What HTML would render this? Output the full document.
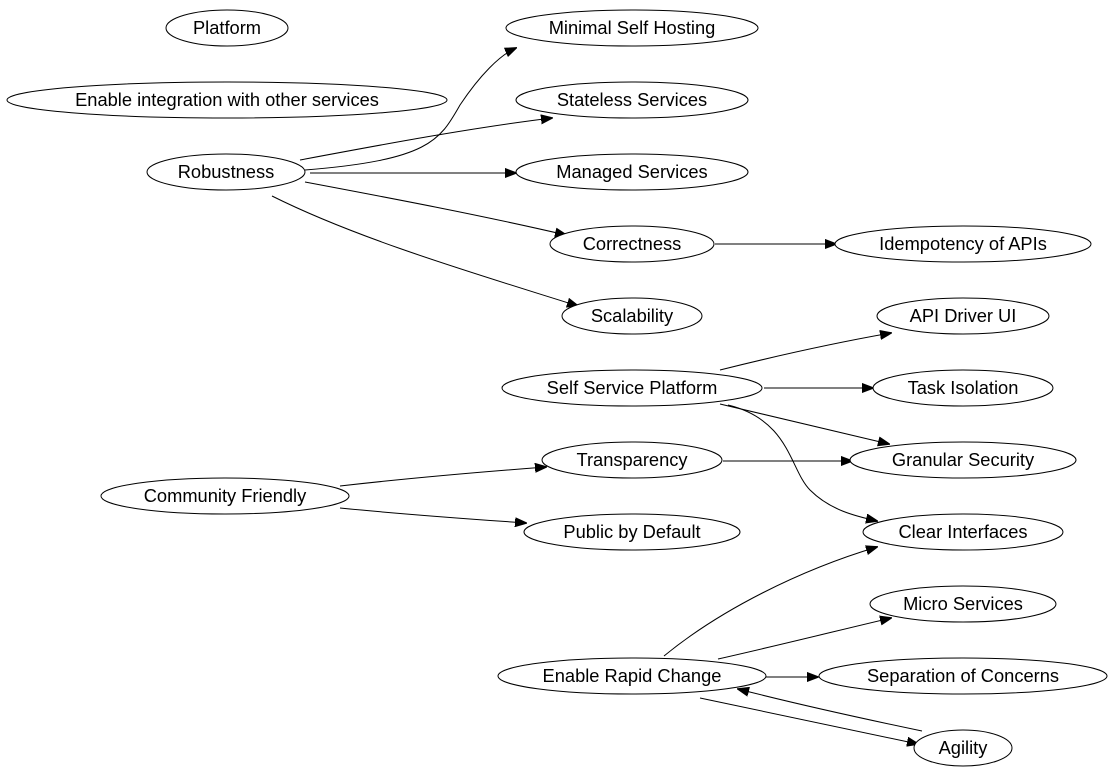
<!DOCTYPE html>
<html><head><meta charset="utf-8"><style>
html,body{margin:0;padding:0;background:#fff;}
svg{display:block;}
text{font-family:"Liberation Sans",sans-serif;font-size:18.3px;text-anchor:middle;fill:#000;}
ellipse{fill:#fff;stroke:#000;stroke-width:1;}
path{fill:none;stroke:#000;stroke-width:1;}
</style></head><body>
<svg width="1115" height="779" viewBox="0 0 1115 779">
<defs><marker id="a" markerWidth="12" markerHeight="10" refX="11" refY="5" orient="auto" markerUnits="userSpaceOnUse"><path d="M0,0.5 L12,5 L0,9.5 Z" style="fill:#000;stroke:#000"/></marker></defs>
<g marker-end="url(#a)">
<path d="M305,170 C430,160 440,140 460,105 C480,75 500,55 516,48"/>
<path d="M300,160 C380,145 470,128 552,118"/>
<path d="M310,173 L516,173"/>
<path d="M305,182 C390,198 480,215 566,235"/>
<path d="M272,196 C360,240 480,275 578,306"/>
<path d="M715,244 L836,244"/>
<path d="M720,370 C780,355 840,342 891,333"/>
<path d="M764,388 L873,388"/>
<path d="M720,404 C780,418 840,432 889,444"/>
<path d="M728,405 C790,420 790,470 810,490 C830,510 855,516 877,521"/>
<path d="M723,461 L852,461"/>
<path d="M340,486 C410,478 480,472 546,467"/>
<path d="M340,508 C410,515 470,519 526,523"/>
<path d="M664,656 C720,610 800,570 877,547"/>
<path d="M718,659 C780,645 840,630 891,618"/>
<path d="M762,677 L818,677"/>
<path d="M700,698 C780,715 860,732 918,744"/>
<path d="M922,731 C860,718 800,705 738,689"/>
</g>
<ellipse cx="227" cy="28" rx="61" ry="18"/><text x="227" y="34">Platform</text>
<ellipse cx="227" cy="100" rx="220" ry="18"/><text x="227" y="106">Enable integration with other services</text>
<ellipse cx="226" cy="172" rx="79" ry="18"/><text x="226" y="178">Robustness</text>
<ellipse cx="632" cy="28" rx="126" ry="18"/><text x="632" y="34">Minimal Self Hosting</text>
<ellipse cx="632" cy="100" rx="116" ry="18"/><text x="632" y="106">Stateless Services</text>
<ellipse cx="632" cy="172" rx="116" ry="18"/><text x="632" y="178">Managed Services</text>
<ellipse cx="632" cy="244" rx="82" ry="18"/><text x="632" y="250">Correctness</text>
<ellipse cx="632" cy="316" rx="70" ry="18"/><text x="632" y="322">Scalability</text>
<ellipse cx="963" cy="244" rx="128" ry="18"/><text x="963" y="250">Idempotency of APIs</text>
<ellipse cx="963" cy="316" rx="86" ry="18"/><text x="963" y="322">API Driver UI</text>
<ellipse cx="632" cy="388" rx="130" ry="18"/><text x="632" y="394">Self Service Platform</text>
<ellipse cx="963" cy="388" rx="90" ry="18"/><text x="963" y="394">Task Isolation</text>
<ellipse cx="225" cy="496" rx="124" ry="18"/><text x="225" y="502">Community Friendly</text>
<ellipse cx="632" cy="460" rx="90" ry="18"/><text x="632" y="466">Transparency</text>
<ellipse cx="963" cy="460" rx="113" ry="18"/><text x="963" y="466">Granular Security</text>
<ellipse cx="632" cy="532" rx="108" ry="18"/><text x="632" y="538">Public by Default</text>
<ellipse cx="963" cy="532" rx="100" ry="18"/><text x="963" y="538">Clear Interfaces</text>
<ellipse cx="963" cy="604" rx="93" ry="18"/><text x="963" y="610">Micro Services</text>
<ellipse cx="632" cy="676" rx="134" ry="18"/><text x="632" y="682">Enable Rapid Change</text>
<ellipse cx="963" cy="676" rx="144" ry="18"/><text x="963" y="682">Separation of Concerns</text>
<ellipse cx="963" cy="748" rx="49" ry="18"/><text x="963" y="754">Agility</text>
</svg>
</body></html>
